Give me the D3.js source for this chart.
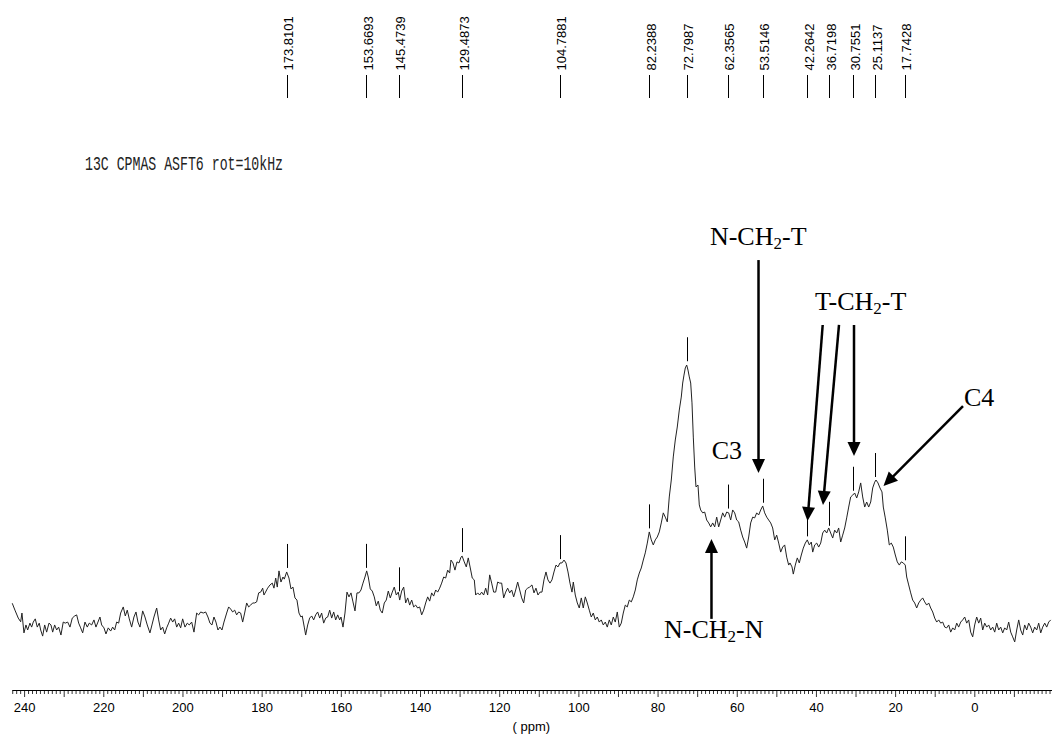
<!DOCTYPE html>
<html><head><meta charset="utf-8">
<script src="https://cdn.jsdelivr.net/npm/d3@7"></script>
<style>body{margin:0;background:#fff;}svg{display:block;}</style>
</head><body>
<svg id="chart" width="1052" height="734"></svg>
<script>
// ---- data ----
const ppm = [
243.12,242.44,241.60,240.99,240.67,240.16,239.66,239.23,238.65,238.22,
237.81,237.31,236.80,236.30,235.94,235.44,234.93,234.43,233.84,233.34,
232.91,232.41,231.90,231.40,230.82,230.24,229.73,229.12,228.54,227.96,
227.35,226.85,226.34,225.84,225.33,224.75,224.17,223.67,223.06,222.48,
221.98,221.47,220.97,220.54,219.95,219.45,218.87,218.26,217.76,217.25,
216.75,216.24,215.74,215.08,214.57,214.07,213.56,212.96,212.38,211.87,
211.37,210.86,210.18,209.60,209.02,208.34,207.83,207.33,206.64,206.14,
205.63,205.13,204.62,204.12,203.61,203.11,202.60,202.10,201.59,201.09,
200.58,200.08,199.49,198.91,198.41,197.80,197.22,196.54,196.04,195.53,
194.87,194.27,193.69,193.18,192.68,192.17,191.67,191.16,190.66,190.15,
189.64,188.96,188.46,187.95,187.45,186.94,186.44,185.93,185.43,184.92,
184.42,183.91,183.41,182.90,182.40,181.89,181.39,180.88,180.37,179.87,
179.54,
178.61,178.02,177.44,177.02,176.58,176.18,175.75,175.25,174.74,174.41,
173.81,173.23,172.72,172.22,171.71,171.21,170.70,170.20,169.87,169.36,
169.01,168.50,168.00,167.49,166.99,166.48,165.98,165.47,164.97,164.46,
163.95,163.45,162.94,162.44,161.93,161.43,160.92,160.42,160.09,159.58,
159.08,158.57,158.07,157.56,157.06,156.55,156.05,155.54,155.04,154.53,
154.03,153.60,153.20,152.69,152.19,151.68,151.18,150.67,150.16,149.66,
149.15,148.65,148.14,147.64,147.13,146.63,146.12,145.62,145.26,144.76,
144.25,143.75,143.24,142.74,142.23,141.73,141.22,140.72,140.21,139.71,
139.20,138.70,138.19,137.69,137.18,136.68,136.17,135.67,135.16,134.66,
134.15,133.65,133.14,132.64,132.31,131.80,131.30,130.79,130.29,129.78,
129.49,128.95,128.44,127.94,127.43,126.93,126.42,126.07,125.56,125.06,
124.55,124.05,123.54,123.04,122.53,122.03,121.52,121.02,120.51,120.01,
119.50,119.00,118.49,117.99,117.48,116.98,116.47,115.96,115.46,114.95,
114.45,113.94,113.44,112.93,112.43,
111.85,111.34,110.84,110.33,109.83,109.32,108.82,108.31,107.81,107.30,
106.80,106.29,105.78,105.28,104.77,104.27,103.76,103.26,102.75,102.25,
101.74,101.41,100.91,100.40,99.90,99.39,98.89,98.38,97.88,97.37,
96.87,96.36,95.86,95.35,94.85,94.34,93.84,93.33,92.83,92.32,
91.82,91.31,90.81,90.30,89.80,89.29,88.79,88.28,87.78,87.27,
86.76,86.26,85.75,85.25,84.74,84.24,83.73,83.23,82.72,82.22,
81.71,81.21,80.70,80.20,79.69,79.19,78.68,78.18,77.67,77.17,
76.66,76.16,75.65,75.15,74.64,74.14,73.78,73.45,73.12,72.77,
72.44,72.11,71.76,71.43,71.10,70.75,70.42,69.92,69.59,69.24,
68.73,68.22,67.72,67.21,66.71,66.20,65.70,65.19,64.69,64.18,
63.68,63.17,62.67,62.16,61.66,61.15,60.65,60.14,59.64,59.13,
58.63,58.12,57.62,57.11,56.61,56.10,55.60,55.09,54.59,54.08,
53.57,53.07,52.56,52.06,51.55,51.05,50.54,50.04,49.53,49.03,
48.52,48.02,47.51,47.01,
46.68,46.17,45.84,45.34,44.83,44.33,43.82,43.32,42.81,42.31,
41.80,41.30,40.94,40.44,39.93,39.43,38.92,38.42,37.91,37.41,
36.90,36.40,35.89,35.39,34.88,34.38,33.87,33.37,32.86,32.36,
31.85,31.35,30.84,30.34,29.83,29.33,28.82,28.32,27.81,27.31,
26.80,26.29,25.79,25.28,24.96,24.45,23.95,23.44,23.11,22.61,
22.10,21.60,21.09,20.59,20.08,19.58,19.07,18.57,18.06,17.56,
17.20,16.70,16.19,15.69,15.18,14.68,14.17,13.67,13.16,12.65,
12.15,11.64,11.14,10.63,10.13,9.62,9.12,8.61,8.11,7.60,
7.10,6.59,6.09,5.58,5.08,4.57,4.07,3.56,3.06,2.55,
2.05,1.54,1.04,0.53,0.03,-0.48,-0.99,-1.49,-2.00,-2.50,
-3.01,-3.51,-4.02,-4.52,-5.03,-5.53,-6.04,-6.54,-7.05,-7.55,
-8.06,-8.56,-9.07,-9.57,-10.08,-10.58,-11.09,-11.59,-12.10,-12.60,
-13.11,-13.61,-14.12,-14.62,-15.13,-15.64,-16.14,-16.65,-17.15,-17.66,
-18.16,-18.67,-19.17
];
const intensity = [
10.1,7.5,4.5,3.1,6.4,-1.1,1.9,0,2.6,1.1,
3.0,4.2,1.1,2.6,0,-2.3,1.9,-0.8,2.6,1.9,
-0.8,1.9,0,1.1,-1.9,3.0,2.6,3.0,1.1,4.5,
5.3,5.7,2.6,0.8,-1.1,3.0,1.1,2.6,1.9,3.8,
1.1,3.0,4.9,1.9,0.8,-1.5,0.8,-0.4,1.1,0,
3.0,2.6,6.4,8.7,5.3,7.5,4.2,1.1,4.9,6.8,
3.0,1.1,7.2,4.9,1.9,-1.1,1.9,4.9,8.3,3.8,
0,1.1,-1.5,0.8,2.6,4.5,3.0,4.2,1.1,2.6,
0.8,4.2,1.1,2.6,1.9,3.0,-0.8,6.4,5.7,6.8,
6.4,6.8,4.9,2.6,1.9,4.9,3.0,0,1.1,0,
3.0,6.4,8.7,7.9,6.8,7.5,5.7,6.8,6.4,3.0,
6.4,10.2,8.7,9.4,10.2,10.2,10.6,14.0,14.3,15.8,
13.2,
15.8,17.0,17.7,15.8,19.6,16.2,22.3,18.1,20.0,19.2,
21.9,19.6,15.5,16.2,12.1,11.3,6.4,4.9,5.3,1.1,
-1.9,1.9,4.5,5.3,3.8,5.7,6.8,4.5,6.4,2.6,
4.5,4.9,7.5,4.5,6.8,3.8,5.7,3.8,4.9,1.1,
6.4,14.3,12.5,14.0,10.6,7.2,14.0,14.0,15.1,17.7,
20.0,22.3,20.0,15.5,14.7,12.5,9.1,10.9,7.5,6.4,
10.2,11.3,14.7,12.1,14.3,16.2,13.2,14.3,11.3,14.7,
16.2,10.2,12.1,9.4,11.3,8.7,9.4,8.3,8.7,5.7,
7.5,10.2,12.5,10.9,14.0,12.8,15.1,14.3,15.8,17.7,
20.0,19.6,22.6,21.5,26.4,25.3,22.6,25.7,25.3,27.5,
27.9,25.7,23.8,27.2,23.4,19.6,18.9,13.2,14.0,13.2,
14.3,13.2,15.8,13.2,20.8,17.7,14.3,14.3,18.1,17.7,
17.7,12.1,14.3,15.8,14.0,15.1,12.5,15.1,18.1,15.1,
12.1,10.2,15.1,15.8,16.2,
17.0,14.0,15.8,13.2,14.3,14.3,18.9,21.9,18.9,17.7,
18.9,21.9,24.5,23.8,25.3,25.3,26.4,25.3,21.9,17.7,
14.3,18.1,13.2,10.2,8.3,12.1,8.3,12.5,10.2,7.5,
4.9,6.4,3.8,4.9,3.0,3.8,1.9,3.0,1.1,3.8,
1.9,4.9,3.0,6.8,1.1,2.6,6.4,9.4,8.7,11.3,
10.6,12.5,15.1,18.9,21.5,23.4,26.4,29.1,32.8,37.0,
34.0,32.1,34.0,35.1,37.0,40.4,44.2,42.6,40.8,50.2,
56.6,65.3,71.7,76.6,83.0,87.9,93.2,96.2,98.9,100.0,
98.1,95.5,93.2,85.7,72.8,61.5,54.0,54.7,47.2,45.3,
44.2,44.5,41.5,40.4,38.9,40.4,38.9,42.6,38.9,41.5,
44.2,42.6,44.5,44.2,41.5,45.3,44.2,41.5,40.8,37.7,
35.1,33.2,30.9,35.1,40.4,42.6,42.3,44.2,43.4,45.3,
46.8,44.2,42.6,41.5,40.4,38.5,34.0,35.8,32.8,29.4,
31.3,32.1,27.5,24.5,
25.3,23.8,21.1,24.5,27.2,25.3,28.3,30.9,32.8,34.0,
32.1,33.2,29.4,32.1,32.8,31.3,32.8,36.6,37.7,36.6,
38.5,36.6,34.7,37.7,36.6,38.5,33.2,35.8,38.5,42.3,
46.4,50.2,50.9,51.7,49.8,52.1,55.5,50.2,46.4,48.3,
46.4,48.3,53.6,55.8,56.6,55.5,53.6,52.1,46.4,42.3,
37.7,32.1,32.8,31.3,28.3,25.7,24.5,25.7,25.3,24.5,
20.0,17.0,14.0,11.3,10.2,8.3,10.2,11.3,12.1,10.6,
9.4,10.2,8.3,6.8,4.5,3.0,3.8,2.6,3.0,1.1,
0.8,1.9,-0.8,0.8,0,2.6,1.1,3.0,3.8,4.9,
2.6,3.8,-0.8,-2.6,1.9,4.9,2.6,4.5,0,2.6,
1.1,1.9,0,1.1,-0.8,2.6,0,1.1,-1.1,0.8,
0,3.0,-0.8,-2.6,-4.5,0,3.8,0,-1.9,1.9,
0,2.6,1.1,-1.1,1.1,0,2.6,-1.1,1.1,2.6,
1.1,3.0,3.8
];
const peakLabels = ["173.8101","153.6693","145.4739","129.4873","104.7881","82.2388","72.7987",
  "62.3565","53.5146","42.2642","36.7198","30.7551","25.1137","17.7428"];
const axisTickValues = [240,220,200,180,160,140,120,100,80,60,40,20,0];
const axisTitle = "( ppm)";
const chartTitle = "13C CPMAS ASFT6 rot=10kHz";

// ---- scales ----
const svg = d3.select("#chart");
const x = d3.scaleLinear().domain([240, 0]).range([24.6, 974.8]);
const y = d3.scaleLinear().domain([0, 100]).range([630, 365]);

const pts = d3.range(Math.min(ppm.length, intensity.length)).map(i => [ppm[i], intensity[i]]);

function intensityAt(p) {
  for (let i = 0; i < pts.length - 1; i++) {
    const a = pts[i], b = pts[i+1];
    if (p <= a[0] && p >= b[0]) {
      const t = (a[0] - p) / (a[0] - b[0]);
      return a[1] + t * (b[1] - a[1]);
    }
  }
  return 0;
}

// ---- spectrum ----
svg.append("path")
  .datum(pts)
  .attr("fill", "none")
  .attr("stroke", "#222")
  .attr("stroke-width", 1)
  .attr("stroke-linejoin", "round")
  .attr("d", d3.line().x(d => x(d[0])).y(d => y(d[1])));

// ---- peak markers on spectrum ----
const peaks = peakLabels.map(s => +s);
svg.append("g").selectAll("line").data(peaks).join("line")
  .attr("x1", d => Math.round(x(d)) + 0.5).attr("x2", d => Math.round(x(d)) + 0.5)
  .attr("y1", d => y(intensityAt(d)) - 4)
  .attr("y2", d => y(intensityAt(d)) - 28)
  .attr("stroke", "#000").attr("stroke-width", 1);

// ---- peak labels on top ----
const topG = svg.append("g");
topG.selectAll("line").data(peaks).join("line")
  .attr("x1", d => Math.round(x(d)) + 0.5).attr("x2", d => Math.round(x(d)) + 0.5)
  .attr("y1", 75).attr("y2", 98)
  .attr("stroke", "#000").attr("stroke-width", 1);
topG.selectAll("text").data(peakLabels).join("text")
  .attr("transform", d => `translate(${x(+d) + 6.5},70.5) rotate(-90)`)
  .attr("text-anchor", "start")
  .attr("font-family", "'Liberation Sans', Arial, sans-serif")
  .attr("font-size", 13)
  .attr("fill", "#000")
  .text(d => d);

// ---- title ----
svg.append("text")
  .attr("x", 85).attr("y", 170)
  .attr("font-family", "'Liberation Mono', 'Courier New', monospace")
  .attr("font-size", 20)
  .attr("textLength", 198).attr("lengthAdjust", "spacingAndGlyphs")
  .attr("fill", "#222")
  .text(chartTitle);

// ---- x axis ----
const axisY = 690;
const xAxisG = svg.append("g");
xAxisG.append("line")
  .attr("x1", 12.5).attr("x2", 1052).attr("y1", axisY + 0.5).attr("y2", axisY + 0.5)
  .attr("stroke", "#000").attr("stroke-width", 1);
const tickPpm = d3.range(-19, 244);
xAxisG.selectAll("line.tk").data(tickPpm).join("line").attr("class", "tk")
  .attr("x1", d => x(d)).attr("x2", d => x(d))
  .attr("y1", axisY).attr("y2", d => axisY + (d % 10 === 0 ? 7 : 4))
  .attr("stroke", "#000").attr("stroke-width", 0.8);
xAxisG.selectAll("text").data(axisTickValues).join("text")
  .attr("x", d => x(d)).attr("y", 712)
  .attr("text-anchor", "middle")
  .attr("font-family", "'Liberation Sans', Arial, sans-serif")
  .attr("font-size", 13)
  .attr("fill", "#000")
  .text(d => d);
svg.append("text")
  .attr("x", x(112)).attr("y", 731)
  .attr("text-anchor", "middle")
  .attr("font-family", "'Liberation Sans', Arial, sans-serif")
  .attr("font-size", 13)
  .attr("fill", "#000")
  .attr("xml:space", "preserve")
  .text(axisTitle);

// ---- annotations (in data coordinates) ----
const ann = svg.append("g")
  .attr("font-family", "'Liberation Serif', 'Times New Roman', serif")
  .attr("font-size", 26).attr("fill", "#000");

function label(p, inten, parts) {
  const t = ann.append("text").attr("x", x(p)).attr("y", y(inten));
  let prevSub = false;
  parts.forEach(([s, sub]) => {
    const ts = t.append("tspan").text(s);
    if (sub) ts.attr("font-size", 17).attr("dy", 4);
    else if (prevSub) ts.attr("dy", -4);
    prevSub = !!sub;
  });
}
label(66.9, 145.3, [["N-CH", 0], ["2", 1], ["-T", 0]]);
label(40.36, 120.8, [["T-CH", 0], ["2", 1], ["-T", 0]]);
label(66.46, 64.5, [["C3", 0]]);
label(2.73, 84.5, [["C4", 0]]);
label(78.5, -3.0, [["N-CH", 0], ["2", 1], ["-N", 0]]);

function arrow(p0, i0, p1, i1) {
  const x0 = x(p0), y0 = y(i0), x1 = x(p1), y1 = y(i1);
  const dx = x1 - x0, dy = y1 - y0, L = Math.hypot(dx, dy);
  const ux = dx / L, uy = dy / L, hl = 14, hw = 6.5;
  const bx = x1 - ux * hl, by = y1 - uy * hl;
  ann.append("line").attr("x1", x0).attr("y1", y0).attr("x2", bx + ux * 2).attr("y2", by + uy * 2)
    .attr("stroke", "#000").attr("stroke-width", 2.5);
  ann.append("path")
    .attr("d", `M${x1},${y1}L${bx - uy * hw},${by + ux * hw}L${bx + uy * hw},${by - ux * hw}Z`)
    .attr("fill", "#000");
}
arrow(54.63, 139.6, 54.63, 59.2);
arrow(38.42, 115.1, 42.26, 41.1);
arrow(34.30, 115.1, 38.34, 47.2);
arrow(30.51, 115.1, 30.51, 65.7);
arrow(2.98, 84.5, 23.06, 54.3);
arrow(66.51, 4.2, 66.51, 34.3);
</script>
</body></html>
